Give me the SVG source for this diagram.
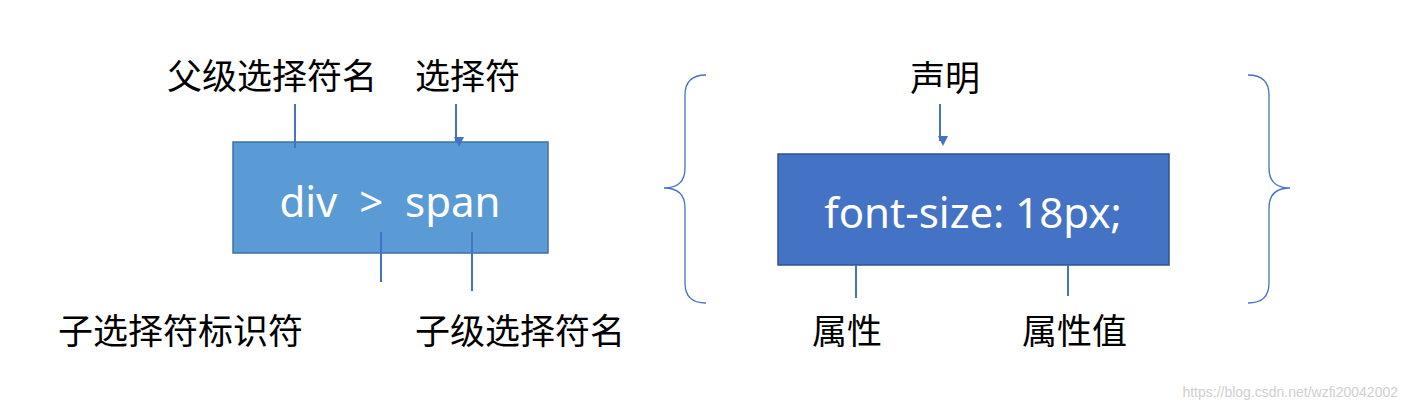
<svg xmlns="http://www.w3.org/2000/svg" width="1407" height="410" viewBox="0 0 1407 410">
<defs>
<style>
.lbl{font-family:"Microsoft YaHei","Noto Sans CJK SC",sans-serif;font-size:35px;fill:#000}
.bt{font-family:"Noto Sans","Liberation Sans",sans-serif;font-size:42px;fill:#fff}
.ln{stroke:#4472C4;stroke-width:2;fill:none}
.br{stroke:#4472C4;stroke-width:1.3;fill:none}
</style>
<marker id="ah" markerWidth="10" markerHeight="10" refX="5" refY="8" orient="auto" markerUnits="userSpaceOnUse" viewBox="0 0 10 10">
<path d="M0,0 L10,0 L5,10 z" fill="#4472C4" transform="rotate(-90 5 5)"/>
</marker>
</defs>
<rect width="1407" height="410" fill="#fff"/>
<g id="box1"><rect x="233" y="142" width="315" height="111" fill="#5B9BD5" stroke="#41719C" stroke-width="1.5"/>
<text class="bt" x="390" y="217" text-anchor="middle" xml:space="preserve">div  &gt;  span</text></g>
<g id="box2"><rect x="778" y="154" width="391" height="111" fill="#4472C4" stroke="#2F528F" stroke-width="1.5"/>
<text class="bt" x="973" y="228" text-anchor="middle">font-size: 18px;</text></g>
<g id="connectors">
<line class="ln" x1="295" y1="104" x2="295" y2="148"/>
<line class="ln" x1="456" y1="104" x2="456" y2="142" marker-end="url(#ah)"/>
<line class="ln" x1="381" y1="232" x2="381" y2="282"/>
<line class="ln" x1="472" y1="232" x2="472" y2="291"/>
<line class="ln" x1="940" y1="104" x2="940" y2="141" marker-end="url(#ah)"/>
<line class="ln" x1="856" y1="265" x2="856" y2="298"/>
<line class="ln" x1="1068" y1="265" x2="1068" y2="296"/>
<path class="br" d="M706,75 Q685,75 685,95 L685,168 Q685,188 664,188 Q685,188 685,208 L685,283 Q685,303 706,303"/>
<path class="br" d="M1248,75 Q1269,75 1269,95 L1269,168 Q1269,188 1290,188 Q1269,188 1269,208 L1269,283 Q1269,303 1248,303"/>
</g>
<g id="labels">
<text class="lbl" x="167" y="89">父级选择符名</text>
<text class="lbl" x="415" y="89">选择符</text>
<text class="lbl" x="910" y="91">声明</text>
<text class="lbl" x="58" y="344">子选择符标识符</text>
<text class="lbl" x="415" y="344">子级选择符名</text>
<text class="lbl" x="812" y="344">属性</text>
<text class="lbl" x="1022" y="344">属性值</text>
<text x="1398" y="397" text-anchor="end" font-family="Liberation Sans,sans-serif" font-size="14" fill="#cfcfcf">https://blog.csdn.net/wzfi20042002</text>
</g>
</svg>
